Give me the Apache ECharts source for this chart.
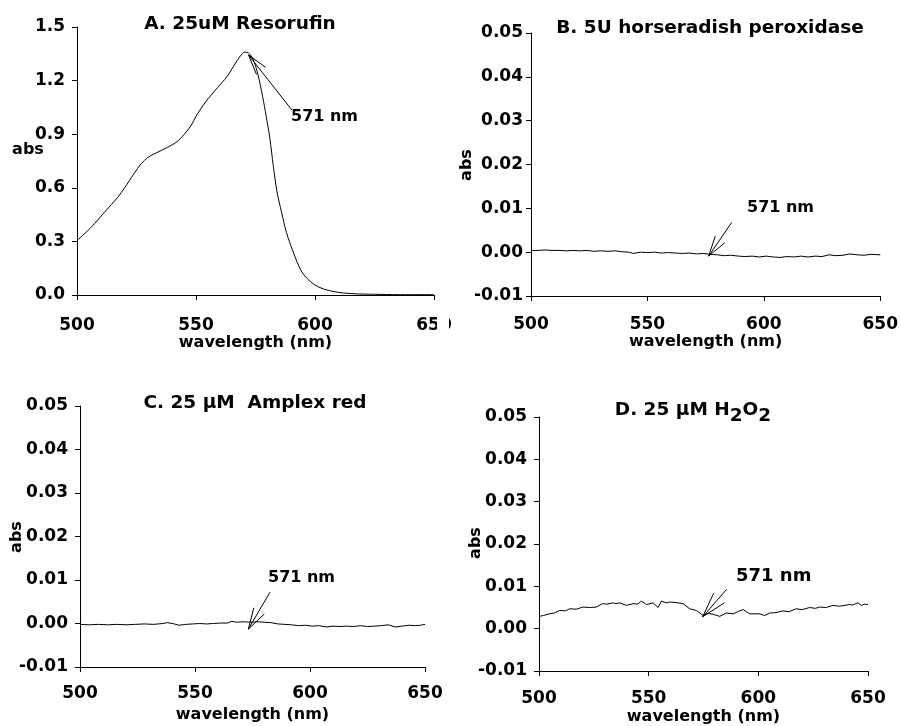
<!DOCTYPE html>
<html>
<head>
<meta charset="utf-8">
<script src="https://cdn.jsdelivr.net/npm/echarts@6/dist/echarts.min.js"></script>
<style>html,body{margin:0;padding:0;background:#fff;}#c{width:901px;height:726px;}</style>
</head>
<body>
<div id="c"></div>
<script>
// ---- Data ----
const xTicks = [500, 550, 600, 650];
const panelTitles = ['A. 25uM Resorufin', 'B. 5U horseradish peroxidase', 'C. 25 \u03bcM  Amplex red', 'D. 25 \u03bcM H2O2'];
const peakLabel = '571 nm';
const yName = 'abs';

const aWl  = [500,506,512,517,520,524,527,530,534,538,542,545,548,550,554,559,563,566,568.5,570.5,572,574,576,578,579.5,581,582.5,584,586,588,591,594,596.5,600,603.5,608,612,618,625,635,650];
const aAbs = [0.304,0.38,0.47,0.545,0.60,0.68,0.735,0.772,0.80,0.826,0.858,0.898,0.95,1.0,1.08,1.16,1.222,1.285,1.335,1.360,1.355,1.32,1.235,1.11,1.0,0.88,0.72,0.58,0.46,0.35,0.235,0.14,0.095,0.056,0.034,0.019,0.011,0.006,0.004,0.002,0.002];

const bWl  = [500,503,506,509,512,515,518,521,524,527,530,533,536,539,542,544,547,550,553,556,559,562,565,568,571,574,577,580,583,586,589,592,595,598,601,604,607,610,613,616,619,622,625,628,631,634,637,640,643,646,650];
const bAbs = [0.0004,0.0004,0.0005,0.0004,0.0004,0.0003,0.0004,0.0003,0.0004,0.0002,0.0003,0.0002,0.0003,0.0001,0.0000,-0.0003,0.0000,-0.0001,0.0000,-0.0002,-0.0001,-0.0002,-0.0003,-0.0002,-0.0004,-0.0003,-0.0005,-0.0006,-0.0008,-0.0007,-0.0009,-0.0010,-0.0009,-0.0011,-0.0009,-0.0011,-0.0012,-0.0010,-0.0011,-0.0009,-0.0011,-0.0009,-0.0010,-0.0006,-0.0008,-0.0007,-0.0004,-0.0006,-0.0007,-0.0005,-0.0006];

const cWl  = [500,504,508,512,516,520,524,528,532,536,538,541,543,546,549,552,555,558,561,564,566,568,571,574,577,580,583,586,589,592,595,598,601,604,607,610,613,616,619,622,625,628,631,634,637,640,643,646,648,650];
const cAbs = [-0.0002,-0.0003,-0.0002,-0.0003,-0.0002,-0.0003,-0.0002,-0.0001,-0.0002,0.0000,0.0002,-0.0001,-0.0004,-0.0002,-0.0001,0.0000,-0.0001,0.0000,0.0001,0.0001,0.0005,0.0003,0.0004,0.0003,0.0004,0.0003,0.0002,-0.0001,-0.0002,-0.0003,-0.0005,-0.0004,-0.0006,-0.0005,-0.0008,-0.0006,-0.0007,-0.0006,-0.0007,-0.0005,-0.0007,-0.0006,-0.0005,-0.0003,-0.0008,-0.0006,-0.0004,-0.0005,-0.0004,-0.0002];

const dWl  = [500,502,504.6,507,509.4,512,514,517,520,523,526,529,531,533.8,535,536.8,539.8,542.9,545,546.7,549,552,554.3,555.8,558,559.6,562,565.7,568.7,571.8,574.8,577,579.4,582.4,585.5,588.5,591,593.1,596.1,600.7,602.9,605.2,608,611.2,614,617.3,620,623.4,626,628,631,634,637,641.6,643,645.4,646.9,648.5,650];
const dAbs = [0.0029,0.0031,0.0035,0.0037,0.0043,0.0042,0.0047,0.0046,0.0051,0.0050,0.0051,0.0059,0.0058,0.0061,0.0059,0.0061,0.0055,0.0059,0.0058,0.0065,0.0057,0.0061,0.0050,0.0065,0.0061,0.0063,0.0062,0.0059,0.0047,0.0043,0.0031,0.0036,0.0034,0.0029,0.0037,0.0035,0.0041,0.0045,0.0035,0.0035,0.0031,0.0037,0.0038,0.0042,0.0040,0.0047,0.0045,0.0050,0.0048,0.0051,0.0050,0.0055,0.0053,0.0057,0.0056,0.0061,0.0055,0.0058,0.0057];

// arrow annotations in data coordinates: [tipX, tipY, tailX, tailY]
const arrowA = [572.1, 1.343, 590.3, 1.035];
const arrowB = [576.3, -0.0009, 586.2, 0.0068];
const arrowC = [573.2, -0.0013, 582.6, 0.0072];
const arrowD = [574.6, 0.0028, 585.6, 0.0093];

// ---- Chart ----
const FONT = 'DejaVu Sans';
const chart = echarts.init(document.getElementById('c'), null, {renderer: 'canvas'});
const zip = (xs, ys) => xs.map((x, i) => [x, ys[i]]);

const grids = [
  {left: 77,  top: 27,  width: 357, height: 268},
  {left: 531, top: 33,  width: 352, height: 263},
  {left: 80,  top: 406, width: 345, height: 261},
  {left: 539, top: 417, width: 329, height: 254}
];
const yCfg = [
  {min: 0, max: 1.5, interval: 0.3, dec: 1, margin: 12},
  {min: -0.01, max: 0.05, interval: 0.01, dec: 2, margin: 8},
  {min: -0.01, max: 0.05, interval: 0.01, dec: 2, margin: 12},
  {min: -0.01, max: 0.05, interval: 0.01, dec: 2, margin: 12}
];
const axisCommon = {
  axisLine: {show: true, onZero: false, lineStyle: {color: '#000', width: 1}},
  axisTick: {show: true, inside: false, length: 5, lineStyle: {color: '#000'}},
  splitLine: {show: false},
  axisLabel: {color: '#000', fontFamily: FONT, fontWeight: 'bold', fontSize: 17}
};
const xMargins = [22, 20, 18, 19];

const xAxes = grids.map((g, i) => Object.assign({}, axisCommon, {
  type: 'value', gridIndex: i, min: xTicks[0], max: xTicks[xTicks.length - 1], interval: xTicks[1] - xTicks[0],
  name: 'wavelength (nm)', nameLocation: 'middle', nameGap: [40, 38, 40, 38][i],
  nameTextStyle: {color: '#000', fontFamily: FONT, fontWeight: 'bold', fontSize: 16},
  axisLabel: Object.assign({}, axisCommon.axisLabel, {margin: xMargins[i]})
}));
const yAxes = yCfg.map((c, i) => Object.assign({}, axisCommon, {
  type: 'value', gridIndex: i, min: c.min, max: c.max, interval: c.interval,
  axisLabel: Object.assign({}, axisCommon.axisLabel, {margin: c.margin, formatter: v => Number(v).toFixed(c.dec)})
}));

const seriesData = [zip(aWl, aAbs), zip(bWl, bAbs), zip(cWl, cAbs), zip(dWl, dAbs)];
const series = seriesData.map((d, i) => ({
  type: 'line', xAxisIndex: i, yAxisIndex: i, data: d, showSymbol: false, symbol: 'none',
  smooth: i === 0 ? 0.3 : false, animation: false,
  lineStyle: {color: '#000', width: 1}
}));

chart.setOption({
  animation: false,
  backgroundColor: '#fff',
  grid: grids,
  xAxis: xAxes,
  yAxis: yAxes,
  series: series
});

function arrow(gi, a, barbLen) {
  const tip = chart.convertToPixel({gridIndex: gi}, [a[0], a[1]]);
  const tail = chart.convertToPixel({gridIndex: gi}, [a[2], a[3]]);
  const ang = Math.atan2(tail[1] - tip[1], tail[0] - tip[0]);
  const d = 0.28;
  const b1 = [tip[0] + barbLen * Math.cos(ang + d), tip[1] + barbLen * Math.sin(ang + d)];
  const b2 = [tip[0] + barbLen * Math.cos(ang - d), tip[1] + barbLen * Math.sin(ang - d)];
  const st = {stroke: '#000', lineWidth: 1, fill: null};
  return [
    {type: 'polyline', shape: {points: [tip, tail]}, style: st, z: 100},
    {type: 'polyline', shape: {points: [b1, tip, b2]}, style: st, z: 100}
  ];
}
const txtStyle = (size) => ({fill: '#000', font: 'bold ' + size + 'px "' + FONT + '"'});
function label(text, x, y, size, align, rot) {
  return {type: 'text', x: x, y: y, z: 100, rotation: rot || 0,
    style: Object.assign(txtStyle(size), {text: text, align: align || 'left', verticalAlign: 'middle'})};
}

const graphics = [].concat(
  // clipped 650 label of panel A
  [{type: 'rect', shape: {x: 437, y: 310, width: 12, height: 26}, style: {fill: '#fff'}, z: 90}],
  [label(panelTitles[0], 240, 24, 18.5, 'center'),
   label(panelTitles[1], 710, 28, 18.5, 'center'),
   label(panelTitles[2], 255, 403, 18.5, 'center'),
   {type: 'text', x: 693, y: 410, z: 100,
    style: {text: '{n|D. 25 \u03bcM H}{s|2}{n|O}{s|2}', align: 'center', verticalAlign: 'middle',
      rich: {n: txtStyle(18.5), s: Object.assign(txtStyle(18.5), {padding: [12, 0, 0, 0]})}}},
   label(yName, 28, 150, 16, 'center'),
   label(yName, 467, 165, 16, 'center', Math.PI / 2),
   label(yName, 17, 537, 16, 'center', Math.PI / 2),
   label(yName, 476, 543, 16, 'center', Math.PI / 2),
   label(peakLabel, 291, 117, 16),
   label(peakLabel, 747, 208, 16),
   label(peakLabel, 268, 578, 16),
   label(peakLabel, 736, 576, 18)],
  arrow(0, arrowA, 21), arrow(1, arrowB, 21), arrow(2, arrowC, 22), arrow(3, arrowD, 26)
);
chart.setOption({graphic: graphics});
</script>
</body>
</html>
